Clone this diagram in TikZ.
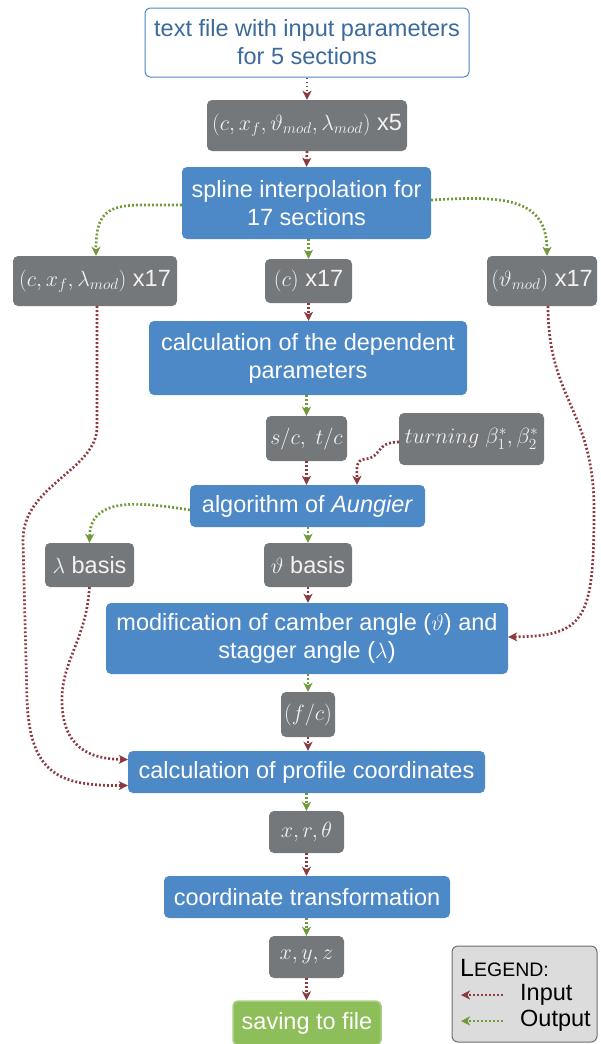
\RequirePackage{fix-cm}
\documentclass[tikz,border=0pt]{standalone}
\usepackage{fontspec}
\setmainfont{Liberation Sans}
\usetikzlibrary{arrows.meta}
\definecolor{pblue}{HTML}{4D89C7}
\definecolor{pgray}{HTML}{75787B}
\definecolor{tfborder}{HTML}{4A86C5}
\definecolor{tftext}{HTML}{3B6A9C}
\definecolor{inred}{HTML}{8B3A3F}
\definecolor{outgreen}{HTML}{6F9A3A}
\definecolor{savefill}{HTML}{8DBE5A}
\definecolor{saveborder}{HTML}{A9D07F}
\definecolor{legfill}{HTML}{DCDCDC}
\definecolor{legborder}{HTML}{6E6E6E}
\definecolor{graytext}{HTML}{F2F2F2}
\newcommand{\mth}[1]{{\fontsize{22}{26}\selectfont$#1$}}
\tikzset{
  box/.style={rounded corners=5pt, inner sep=0pt, align=center,
    font=\fontsize{23.5}{28}\selectfont},
  proc/.style={box, fill=pblue, text=white},
  data/.style={box, fill=pgray, text=graytext},
  filebox/.style={box, fill=white, draw=tfborder, line width=1pt, text=tftext},
  savebox/.style={box, fill=savefill, draw=saveborder, line width=1.5pt, text=white},
  legbox/.style={rounded corners=6pt, fill=legfill, draw=legborder, line width=1pt, inner sep=0pt},
  link/.style={line width=2.7pt, dash pattern=on 1.9pt off 2.1pt,
    -{Stealth[length=9pt,width=9pt,inset=2.5pt]}},
  inlink/.style={link, draw=inred},
  outlink/.style={link, draw=outgreen},
  legtext/.style={font=\fontsize{23.5}{28}\selectfont, text=black, inner sep=0pt, anchor=west}
}
\begin{document}
\begin{tikzpicture}[x=1pt,y=-1pt]
\useasboundingbox (0,0) rectangle (600,1044);
% nodes
\node[filebox, minimum width=324pt, minimum height=69pt] (tf) at (307,42.5) {text file with input parameters\\for 5 sections};
\node[data, minimum width=200pt, minimum height=51pt] (x5) at (307,125.5) {\mth{(c, x_f, \vartheta_{mod}, \lambda_{mod})} x5};
\node[proc, minimum width=249pt, minimum height=72pt] (spl) at (306.5,203) {spline interpolation for\\17 sections};
\node[data, minimum width=164pt, minimum height=50pt] (ca) at (95,281) {\mth{(c, x_f, \lambda_{mod})} x17};
\node[data, minimum width=87pt, minimum height=44pt] (cb) at (308.5,281) {\mth{(c)} x17};
\node[data, minimum width=110pt, minimum height=50pt] (th) at (542,281) {\mth{(\vartheta_{mod})} x17};
\node[proc, minimum width=318pt, minimum height=74pt] (cdp) at (308,358) {calculation of the dependent\\parameters};
\node[data, minimum width=81pt, minimum height=45pt] (sc) at (306.5,438.5) {\mth{s/c,\ t/c}};
\node[data, minimum width=145pt, minimum height=52pt] (turn) at (471.5,439) {\mth{turning\ \beta^*_1, \beta^*_2}};
\node[proc, minimum width=235pt, minimum height=42pt] (aung) at (307.5,506) {algorithm of \textit{Aungier}};
\node[data, minimum width=89pt, minimum height=44pt] (lb) at (89.5,565) {\mth{\lambda} basis};
\node[data, minimum width=88pt, minimum height=44pt] (tb) at (308,565) {\mth{\vartheta} basis};
\node[proc, minimum width=402pt, minimum height=71pt] (mod) at (307,638.5) {modification of camber angle (\mth{\vartheta}) and\\stagger angle (\mth{\lambda})};
\node[data, minimum width=54pt, minimum height=45pt] (fc) at (308,714.5) {\mth{(f/c)}};
\node[proc, minimum width=357pt, minimum height=42pt] (cpc) at (306.5,772) {calculation of profile coordinates};
\node[data, minimum width=75pt, minimum height=42pt] (xrt) at (306.5,832) {\mth{x, r, \theta}};
\node[proc, minimum width=286pt, minimum height=42pt] (ct) at (307,897) {coordinate transformation};
\node[data, minimum width=75pt, minimum height=42pt] (xyz) at (306.5,957) {\mth{x, y, z}};
\node[savebox, minimum width=148pt, minimum height=44pt] (save) at (307,1023) {saving to file};
% legend
\node[legbox, minimum width=145pt, minimum height=96pt] (leg) at (524.5,994) {};
\node[legtext, font=\fontsize{25}{28}\selectfont] (legt) at (460,968) {L{\fontsize{19.5}{22}\selectfont EGEND:}};
\coordinate (ira) at (503,995);
\coordinate (irb) at (461,995);
\coordinate (ora) at (503,1021);
\coordinate (orb) at (461,1021);
\draw[inlink, line width=2.2pt] (ira) -- (irb);
\draw[outlink, line width=2.2pt] (ora) -- (orb);
\node[legtext] (lin) at (520,995) {Input};
\node[legtext] (lout) at (520,1021) {Output};
% vertical connectors
\draw[inlink] (tf.south) -- (x5.north);
\draw[inlink] (x5.south) -- (spl.north);
\draw[outlink] (spl.south -| cb) -- (cb.north);
\draw[inlink] (cb.south) -- (cdp.north -| cb);
\draw[outlink] (cdp.south -| sc) -- (sc.north);
\draw[inlink] (sc.south) -- (aung.north -| sc);
\draw[outlink] (aung.south -| tb) -- (tb.north);
\draw[inlink] (tb.south) -- (mod.north -| tb);
\draw[outlink] (mod.south -| fc) -- (fc.north);
\draw[inlink] (fc.south) -- (cpc.north -| fc);
\draw[outlink] (cpc.south -| xrt) -- (xrt.north);
\draw[inlink] (xrt.south) -- (ct.north -| xrt);
\draw[outlink] (ct.south -| xyz) -- (xyz.north);
\draw[inlink] (xyz.south) -- (save.north -| xyz);
% curved connectors
\draw[outlink] ([yshift=-2pt]spl.west) -- ++(-40,0) .. controls (105,205) and (96,215) .. (ca.north -| 96,0);
\draw[outlink] ([yshift=3pt]spl.east) .. controls (500,196) and (547,196) .. (th.north -| 547,0);
\draw[inlink] (ca.south -| 97,0) -- (97,427) .. controls (97,470) and (23,485) .. (23,540) -- (27,700) .. controls (30,775) and (60,786) .. ([yshift=-13.5pt]cpc.west);
\draw[inlink] (lb.south) .. controls (86,640) and (62,660) .. (62,700) .. controls (62,748) and (90,759) .. ([yshift=12.5pt]cpc.west);
\draw[inlink] (th.south -| 548,0) .. controls (548,400) and (594,410) .. (594,510) .. controls (594,620) and (585,636) .. ([yshift=1.5pt]mod.east);
\draw[inlink] ([yshift=-3pt]turn.west) .. controls (375,442) and (382,458) .. (365,459) .. controls (355,460) and (357,470) .. (aung.north -| 357,0);
\draw[outlink] ([yshift=-4pt]aung.west) .. controls (130,500) and (90,500) .. (lb.north);
\end{tikzpicture}
\end{document}
